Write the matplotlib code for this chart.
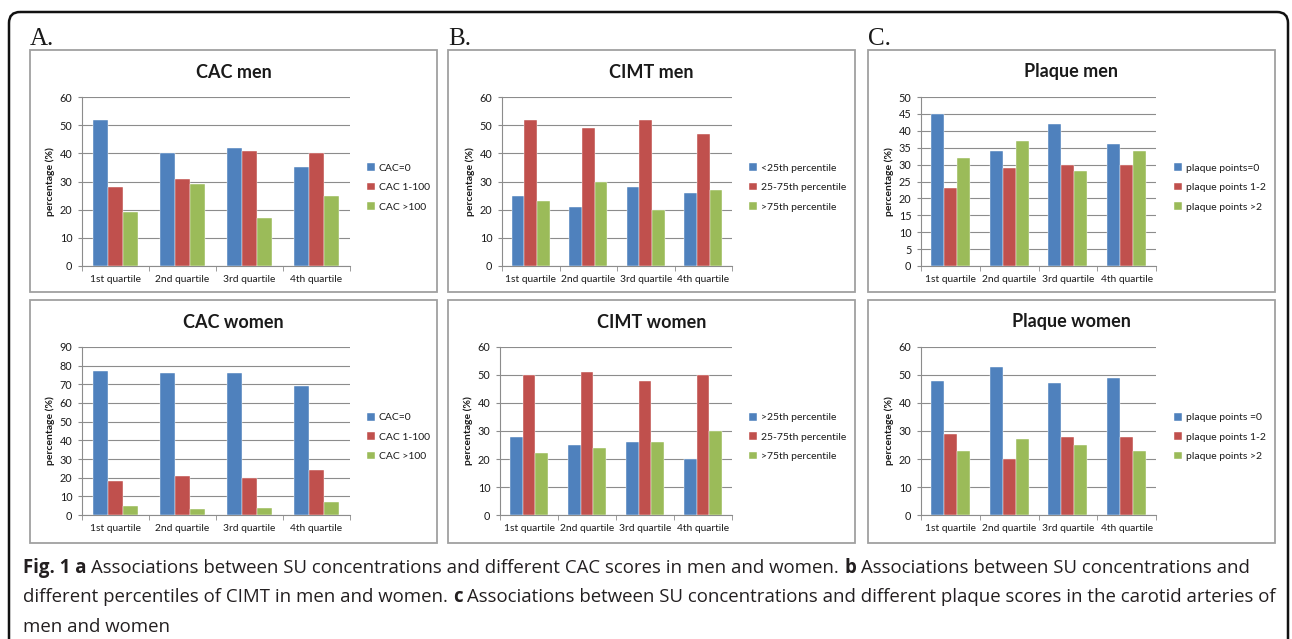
import matplotlib
matplotlib.use("Agg")
import matplotlib.pyplot as plt
import matplotlib.patches as patches
import numpy as np

W, H = 1292, 639

# ---- data ----
categories = ["1st quartile", "2nd quartile", "3rd quartile", "4th quartile"]

cac_labels = ["CAC=0", "CAC 1-100", "CAC >100"]
cac_men_zero = [52, 40, 42, 35]
cac_men_low = [28, 31, 41, 40]
cac_men_high = [19, 29, 17, 25]
cac_women_zero = [77, 76, 76, 69]
cac_women_low = [18, 21, 20, 24]
cac_women_high = [5, 3, 4, 7]

cimt_men_labels = ["<25th percentile", "25-75th percentile", ">75th percentile"]
cimt_women_labels = [">25th percentile", "25-75th percentile", ">75th percentile"]
cimt_men_low = [25, 21, 28, 26]
cimt_men_mid = [52, 49, 52, 47]
cimt_men_high = [23, 30, 20, 27]
cimt_women_low = [28, 25, 26, 20]
cimt_women_mid = [50, 51, 48, 50]
cimt_women_high = [22, 24, 26, 30]

plaque_men_labels = ["plaque points=0", "plaque points 1-2", "plaque points >2"]
plaque_women_labels = ["plaque points =0", "plaque points 1-2", "plaque points >2"]
plaque_men_zero = [45, 34, 42, 36]
plaque_men_low = [23, 29, 30, 30]
plaque_men_high = [32, 37, 28, 34]
plaque_women_zero = [48, 53, 47, 49]
plaque_women_low = [29, 20, 28, 28]
plaque_women_high = [23, 27, 25, 23]

BLUE, RED, GREEN = "#4F81BD", "#C0504D", "#9BBB59"
GRID = "#8c8c8c"
TXT = "#1a1a1a"

plt.rcParams['font.family'] = ['Lato', 'DejaVu Sans']

fig = plt.figure(figsize=(W / 100, H / 100), dpi=100)
fig.patch.set_facecolor("white")

# overlay axes in pixel units for boxes / labels / caption
bg = fig.add_axes([0, 0, 1, 1], zorder=0)
bg.set_xlim(0, W)
bg.set_ylim(H, 0)
bg.axis("off")

# outer rounded frame
bg.add_patch(patches.FancyBboxPatch((9, 12), 1279, 660,
                                    boxstyle="round,pad=0,rounding_size=11",
                                    fill=False, edgecolor="#111111", lw=1.8,
                                    clip_on=False))


def px_axes(left, top, right, bottom):
    return fig.add_axes([left / W, 1 - bottom / H, (right - left) / W, (bottom - top) / H],
                        zorder=2)


def panel(box, area, title, series, labels, ymax, ystep, legend_x):
    bx0, by0, bx1, by1 = box
    bg.add_patch(patches.Rectangle((bx0, by0), bx1 - bx0, by1 - by0, fill=False,
                                   edgecolor="#a0a0a0", lw=1.3))
    bg.text((bx0 + bx1) / 2, by0 + 22, title, ha="center", va="center",
            fontsize=13, fontweight="bold", color=TXT)

    ax = px_axes(*area)
    x = np.arange(len(categories))
    w = 0.22
    for i, (vals, col, lab) in enumerate(zip(series, [BLUE, RED, GREEN], labels)):
        ax.bar(x + (i - 1) * w, vals, w, color=col, label=lab, zorder=3,
               edgecolor="white", linewidth=0.3)
    ax.set_xlim(-0.5, len(categories) - 0.5)
    ax.set_ylim(0, ymax)
    ax.set_yticks(np.arange(0, ymax + 1, ystep))
    ax.set_xticks(x)
    ax.set_xticklabels(categories)
    ax.set_xticks(np.arange(-0.5, len(categories), 1), minor=True)
    ax.tick_params(axis="x", which="major", length=0, pad=6.5, labelsize=7.4, labelcolor=TXT)
    ax.tick_params(axis="x", which="minor", length=3.5, direction="out", color=GRID)
    ax.tick_params(axis="y", length=3, color=GRID, labelsize=7.8, pad=4, labelcolor=TXT)
    ax.yaxis.grid(True, color=GRID, lw=0.8)
    ax.set_axisbelow(True)
    for s in ["top", "right"]:
        ax.spines[s].set_visible(False)
    for s in ["left", "bottom"]:
        ax.spines[s].set_color(GRID)
        ax.spines[s].set_linewidth(0.8)
    ax.set_ylabel("percentage (%)", fontsize=7.5, fontweight="bold", color=TXT, labelpad=3)
    mid = (area[1] + area[3]) / 2
    ax.legend(loc="center left", bbox_to_anchor=(legend_x / W, 1 - (mid + 6) / H),
              bbox_transform=fig.transFigure, frameon=False, fontsize=7.5,
              handlelength=0.75, handleheight=0.75, handletextpad=0.4,
              labelspacing=0.95, borderpad=0, borderaxespad=0, labelcolor=TXT)
    return ax


men_y = (50, 292)
women_y = (300, 543)
cols = [(30, 437), (448, 855), (868, 1275)]

panel((cols[0][0], men_y[0], cols[0][1], men_y[1]), (82, 97, 350, 266), "CAC men",
      [cac_men_zero, cac_men_low, cac_men_high], cac_labels, 60, 10, 367)
panel((cols[0][0], women_y[0], cols[0][1], women_y[1]), (82, 347, 350, 515), "CAC women",
      [cac_women_zero, cac_women_low, cac_women_high], cac_labels, 90, 10, 367)
panel((cols[1][0], men_y[0], cols[1][1], men_y[1]), (502, 97, 732, 266), "CIMT men",
      [cimt_men_low, cimt_men_mid, cimt_men_high], cimt_men_labels, 60, 10, 749)
panel((cols[1][0], women_y[0], cols[1][1], women_y[1]), (500, 347, 732, 515), "CIMT women",
      [cimt_women_low, cimt_women_mid, cimt_women_high], cimt_women_labels, 60, 10, 749)
panel((cols[2][0], men_y[0], cols[2][1], men_y[1]), (921, 97, 1156, 266), "Plaque men",
      [plaque_men_zero, plaque_men_low, plaque_men_high], plaque_men_labels, 50, 5, 1174)
panel((cols[2][0], women_y[0], cols[2][1], women_y[1]), (921, 347, 1156, 515), "Plaque women",
      [plaque_women_zero, plaque_women_low, plaque_women_high], plaque_women_labels, 60, 10, 1174)

# column letters
for letter, (cx0, _) in zip(["A.", "B.", "C."], cols):
    bg.text(cx0, 45, letter, ha="left", va="baseline", fontsize=18,
            family=["Liberation Serif", "DejaVu Serif"], color=TXT)

# caption with bold runs
caption_lines = [
    [("Fig. 1 a", True), ("Associations between SU concentrations and different CAC scores in men and women.", False),
     ("b", True), ("Associations between SU concentrations and", False)],
    [("different percentiles of CIMT in men and women.", False), ("c", True),
     ("Associations between SU concentrations and different plaque scores in the carotid arteries of", False)],
    [("men and women", False)],
]
cap_font = ["Open Sans", "DejaVu Sans"]
cap_size = 13.4
renderer = fig.canvas.get_renderer()
inv = bg.transData.inverted()


def text_width(t):
    bb = t.get_window_extent(renderer=renderer)
    p0 = inv.transform((bb.x0, bb.y0))
    p1 = inv.transform((bb.x1, bb.y0))
    return p1[0] - p0[0]


probe = bg.text(0, 0, "a a", fontsize=cap_size, family=cap_font)
w1 = text_width(probe)
probe.set_text("aa")
space_w = w1 - text_width(probe)
probe.remove()

for li, runs in enumerate(caption_lines):
    yy = 568 + li * 29.5
    xx = 23
    for txt, bold in runs:
        t = bg.text(xx, yy, txt, ha="left", va="center", fontsize=cap_size, family=cap_font,
                    fontweight="bold" if bold else "normal", color="#231f20")
        xx += text_width(t) + space_w

fig.savefig("out.png", dpi=100, facecolor="white")
